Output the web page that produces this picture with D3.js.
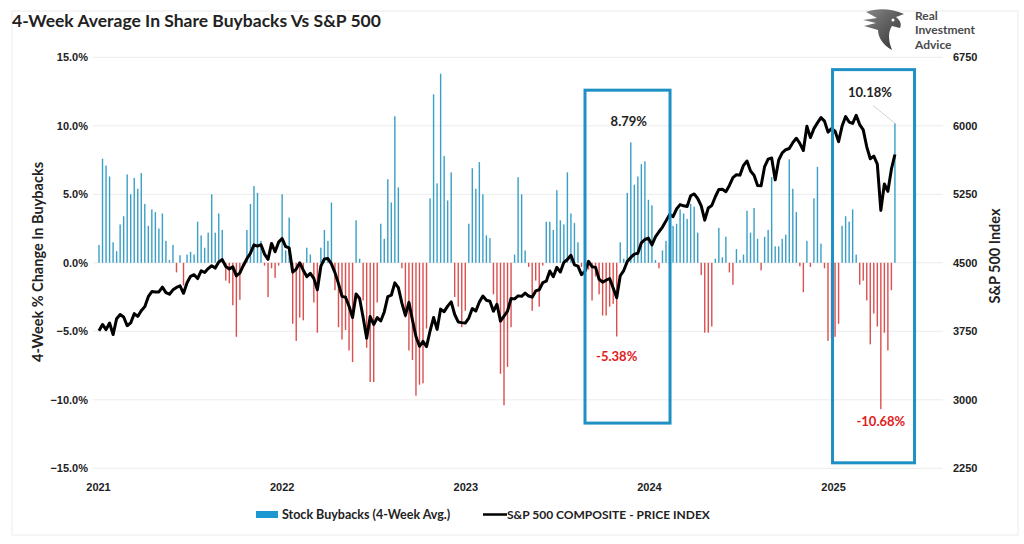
<!DOCTYPE html>
<html lang="en">
<head>
<meta charset="utf-8">
<title>4-Week Average In Share Buybacks Vs S&amp;P 500</title>
<script src="https://cdn.jsdelivr.net/npm/d3@7"></script>
<style>
  body { margin: 0; background: #fff; }
  svg { display: block; font-family: Lato, "Open Sans", sans-serif; }
  .tick text { font-weight: bold; fill: #222; font-size: 11px; }
</style>
</head>
<body>
<div id="chart"></div>
<script>
  // weekly observations, Sunday-dated, Jan 2021 .. early May 2025
  var weeks = d3.timeWeek.range(new Date(2021, 0, 3), new Date(2025, 4, 5));

  // 4-week % change in buybacks (one per week)
  var buybacks = [
    1.3, 7.6, 7.1, 6.3, 1.5, 0.85, 2.8, 3.4, 6.45, 5.0,
    6.2, 5.4, 6.55, 4.3, 2.7, 3.9, 3.7, 2.5, 3.6, 1.6,
    0.2, 1.3, -0.7, 0.55, -1.65, 0.6, 0.8, 0.6, 3.0, 2.0,
    1.1, 2.2, 5.0, 2.2, 3.6, 2.4, -1.3, -1.5, -3.1, -5.4,
    -2.7, -0.3, 2.4, 4.3, 5.6, 5.1, 1.6, -0.2, -2.5, -0.4,
    -1.1, -0.2, 5.0, 0.9, 3.3, -4.45, -5.7, -4.0, -4.2, 1.1,
    0.6, -2.9, -5.1, 1.1, 2.4, 1.6, 4.4, -2.0, -4.7, -5.6,
    -4.9, -6.4, -7.25, 3.1, 0.3, -2.75, -6.2, -8.7, -8.7, -2.9,
    2.85, 1.75, 6.1, 4.4, 10.7, 5.5, -0.4, -4.0, -6.4, -7.1,
    -9.7, -8.9, -8.8, -4.8, 4.7, 12.3, 5.8, 13.8, 7.8, 4.55,
    6.6, -2.5, -3.2, -4.7, -3.5, 2.85, 6.9, 5.4, 7.35, 5.0,
    2.0, 1.8, -2.3, -3.0, -8.1, -10.4, -7.6, -4.7, 0.6, 6.25,
    5.0, 0.9, -0.3, -3.5, -1.3, -3.2, -0.2, 3.0, 3.0, 2.4,
    5.3, 3.1, 2.8, 6.6, 3.6, 2.9, 1.5, -0.3, -4.4, -0.5,
    -2.75, -1.0, -2.3, -3.85, -3.85, -3.2, -3.0, -5.38, 1.5, 0.3,
    5.1, 8.79, 5.7, 6.3, 7.2, 7.4, 4.6, 4.2, 0.2, -0.4,
    0.9, 1.6, 1.2, 2.7, 2.85, 3.9, 3.6, 3.2, 4.3, 4.1,
    2.2, -0.9, -5.1, -5.1, -4.65, 0.3, 2.55, 0.4, 1.9, -0.7,
    -1.6, 1.0, 0.2, 0.6, 3.8, 2.2, 4.0, 1.75, -0.55, 1.9,
    2.4, 6.25, 1.2, 1.2, 1.75, 2.05, 7.55, 5.4, 3.7, -0.25,
    -2.15, 1.6, -0.3, 4.7, 7.0, 1.4, -0.4, -5.7, -5.5, -5.4,
    -4.45, 2.7, 3.4, 3.0, 3.9, 0.6, -1.6, -1.3, -2.75, -5.95,
    -3.7, -4.65, -10.68, -5.1, -6.4, -2.0, 10.18
  ];

  // S&P 500 composite, weekly close
  var spx = [
    3756, 3825, 3768, 3841, 3714, 3887, 3934, 3906, 3811, 3842,
    3943, 3913, 3975, 4020, 4129, 4185, 4180, 4181, 4233, 4174,
    4156, 4204, 4230, 4247, 4166, 4281, 4352, 4370, 4327, 4412,
    4395, 4437, 4468, 4442, 4509, 4535, 4459, 4433, 4455, 4357,
    4391, 4471, 4545, 4605, 4697, 4683, 4698, 4595, 4538, 4712,
    4621, 4726, 4766, 4677, 4663, 4398, 4432, 4501, 4419, 4349,
    4385, 4329, 4204, 4463, 4543, 4546, 4488, 4392, 4272, 4132,
    4123, 4024, 3901, 4158, 4109, 3901, 3675, 3912, 3825, 3899,
    3863, 3962, 4130, 4145, 4280, 4228, 4058, 3924, 4067, 3873,
    3693, 3586, 3640, 3583, 3753, 3901, 3771, 3993, 3965, 4026,
    4072, 3934, 3852, 3845, 3840, 3895, 3999, 3972, 4071, 4136,
    4090, 4079, 3970, 4046, 3862, 3917, 3971, 4109, 4105, 4138,
    4133, 4169, 4136, 4124, 4192, 4205, 4282, 4299, 4410, 4348,
    4450, 4399, 4505, 4536, 4582, 4478, 4464, 4370, 4406, 4516,
    4457, 4450, 4320, 4288, 4309, 4328, 4224, 4117, 4358, 4415,
    4514, 4559, 4595, 4604, 4719, 4755, 4770, 4697, 4784, 4840,
    4891, 4959, 5027, 5006, 5089, 5137, 5124, 5117, 5234, 5254,
    5204, 5123, 4967, 5100, 5128, 5223, 5303, 5305, 5278, 5347,
    5432, 5465, 5460, 5567, 5615, 5505, 5459, 5347, 5344, 5554,
    5635, 5648, 5408, 5626, 5703, 5738, 5751, 5815, 5864, 5808,
    5729, 5996, 5871, 5969, 6032, 6090, 6051, 5931, 5971, 5942,
    5827, 5997, 6101, 6041, 6026, 6115, 6013, 5955, 5770, 5639,
    5668, 5581, 5074, 5363, 5283, 5525, 5686
  ];

  var leftTicks = [-15, -10, -5, 0, 5, 10, 15];
  var rightTicks = [2250, 3000, 3750, 4500, 5250, 6000, 6750];
  var yearTicks = [2021, 2022, 2023, 2024, 2025];

  // callouts: [week index, label, colour, dx, dy]
  var callouts = [
    [151, "8.79%", "#222", -2, -16],
    [147, "-5.38%", "#e02020", 0, 24],
    [226, "10.18%", "#222", -25, -26],
    [222, "-10.68%", "#e02020", 0, 17]
  ];
  // highlighted periods (start / end dates)
  var boxes = [
    { from: new Date(2023, 7, 27), to: new Date(2024, 1, 12), top: 12.6, bottom: -11.7 },
    { from: new Date(2024, 11, 31), to: new Date(2025, 5, 12), top: 14.1, bottom: -14.6 }
  ];

  var W = 1024, H = 544;
  var svg = d3.select("#chart").append("svg")
      .attr("width", W)
      .attr("height", H);

  // outer frame
  svg.append("rect")
    .attr("x", 12).attr("y", 11)
    .attr("width", 1006).attr("height", 524)
    .attr("fill", "none")
    .attr("stroke", "#ececec");

  var x = d3.scaleTime()
    .domain([new Date(2021, 0, 1), new Date(2025, 7, 1)])
    .range([98, 939.7]);
  var y = d3.scaleLinear().domain([-15, 15]).range([468.3, 57.3]);
  var y2 = d3.scaleLinear().domain([2250, 6750]).range([468.3, 57.3]);

  // gridlines
  svg.append("g")
    .selectAll("line")
    .data(leftTicks)
    .join("line")
      .attr("x1", 93).attr("x2", 943)
      .attr("y1", function(d) { return y(d); })
      .attr("y2", function(d) { return y(d); })
      .attr("stroke", "#ebebeb");

  var leftAxis = svg.append("g")
    .attr("transform", "translate(92,0)")
    .call(d3.axisLeft(y).tickValues(leftTicks).tickSize(0).tickPadding(4)
      .tickFormat(function(d) { return d3.format(".1f")(d) + "%"; }));
  leftAxis.select(".domain").remove();

  var rightAxis = svg.append("g")
    .attr("transform", "translate(953,0)")
    .call(d3.axisRight(y2).tickValues(rightTicks).tickSize(0).tickPadding(0)
      .tickFormat(d3.format("d")));
  rightAxis.select(".domain").remove();

  var bottomAxis = svg.append("g")
    .attr("transform", "translate(0,475)")
    .call(d3.axisBottom(x)
      .tickValues(yearTicks.map(function(d) { return new Date(d, 0, 1); }))
      .tickSize(0).tickPadding(8)
      .tickFormat(d3.timeFormat("%Y")));
  bottomAxis.select(".domain").remove();

  // bars
  svg.append("g")
    .selectAll("rect")
    .data(buybacks)
    .join("rect")
      .attr("x", function(d, i) { return x(weeks[i]) - 0.7; })
      .attr("width", 1.4)
      .attr("y", function(d) { return y(Math.max(0, d)); })
      .attr("height", function(d) { return Math.abs(y(d) - y(0)); })
      .attr("fill", function(d) { return d >= 0 ? "#3a9fc6" : "#db4f4f"; });

  // S&P line
  var line = d3.line()
    .x(function(d, i) { return x(weeks[i]); })
    .y(function(d) { return y2(d); });
  svg.append("path")
    .datum(spx)
    .attr("d", line)
    .attr("fill", "none")
    .attr("stroke", "#000")
    .attr("stroke-width", 3)
    .attr("stroke-linejoin", "round");

  // highlight boxes
  svg.append("g")
    .selectAll("rect")
    .data(boxes)
    .join("rect")
      .attr("x", function(d) { return x(d.from); })
      .attr("y", function(d) { return y(d.top); })
      .attr("width", function(d) { return x(d.to) - x(d.from); })
      .attr("height", function(d) { return y(d.bottom) - y(d.top); })
      .attr("fill", "none")
      .attr("stroke", "#1e90c3")
      .attr("stroke-width", 3);

  // leader for 10.18%
  svg.append("line")
    .attr("x1", x(weeks[226]) - 22).attr("y1", y(buybacks[226]) - 18)
    .attr("x2", x(weeks[226])).attr("y2", y(buybacks[226]))
    .attr("stroke", "#c8c8c8").attr("stroke-width", 0.8);

  svg.append("g")
    .selectAll("text")
    .data(callouts)
    .join("text")
      .attr("x", function(d) { return x(weeks[d[0]]) + d[3]; })
      .attr("y", function(d) { return y(buybacks[d[0]]) + d[4]; })
      .attr("text-anchor", "middle")
      .attr("font-size", 13)
      .attr("font-weight", "bold")
      .attr("fill", function(d) { return d[2]; })
      .text(function(d) { return d[1]; });

  // titles
  svg.append("text")
    .attr("x", 12).attr("y", 27)
    .attr("font-size", 17.5).attr("font-weight", "bold").attr("fill", "#222")
    .text("4-Week Average In Share Buybacks Vs S&P 500");

  svg.append("text")
    .attr("transform", "translate(43,262) rotate(-90)")
    .attr("text-anchor", "middle")
    .attr("font-size", 14.5).attr("font-weight", "bold").attr("fill", "#222")
    .text("4-Week % Change In Buybacks");

  svg.append("text")
    .attr("transform", "translate(1000,256) rotate(-90)")
    .attr("text-anchor", "middle")
    .attr("font-size", 14.5).attr("font-weight", "bold").attr("fill", "#222")
    .text("S&P 500 Index");

  // legend
  var legend = svg.append("g").attr("transform", "translate(0,519)");
  legend.append("rect")
    .attr("x", 256).attr("y", -8).attr("width", 22).attr("height", 7)
    .attr("fill", "#1b98d0");
  legend.append("text")
    .attr("x", 282).attr("y", 0)
    .attr("font-size", 12.5).attr("font-weight", "bold").attr("fill", "#222")
    .text("Stock Buybacks (4-Week Avg.)");
  legend.append("line")
    .attr("x1", 483).attr("x2", 507).attr("y1", -4.5).attr("y2", -4.5)
    .attr("stroke", "#000").attr("stroke-width", 2.5);
  legend.append("text")
    .attr("x", 507).attr("y", 0)
    .attr("font-size", 12).attr("font-weight", "bold").attr("fill", "#222")
    .text("S&P 500 COMPOSITE - PRICE INDEX");

  // logo
  var logo = svg.append("g").attr("transform", "translate(862,8)");
  var grad = svg.append("defs").append("linearGradient")
    .attr("id", "eagle").attr("x1", 0).attr("y1", 0).attr("x2", 1).attr("y2", 1);
  grad.append("stop").attr("offset", 0).attr("stop-color", "#8a8a8a");
  grad.append("stop").attr("offset", 1).attr("stop-color", "#2e2e2e");
  logo.append("path")
    .attr("d", "M4,4 C14,0 30,0 42,6 L34,9 C38,12 40,16 38,20 L30,18 C26,24 26,32 30,42 C22,38 16,30 16,22 L2,18 L14,15 L1,12 L15,10 Z")
    .attr("fill", "url(#eagle)");
  logo.append("circle").attr("cx", 31).attr("cy", 12).attr("r", 1.5).attr("fill", "#fff");
  var logoText = ["Real", "Investment", "Advice"];
  logo.append("g")
    .selectAll("text")
    .data(logoText)
    .join("text")
      .attr("x", 53)
      .attr("y", function(d, i) { return 11.5 + i * 14.5; })
      .attr("font-size", 12)
      .attr("font-weight", "bold")
      .attr("fill", "#4a4a4a")
      .text(function(d) { return d; });
</script>
</body>
</html>
